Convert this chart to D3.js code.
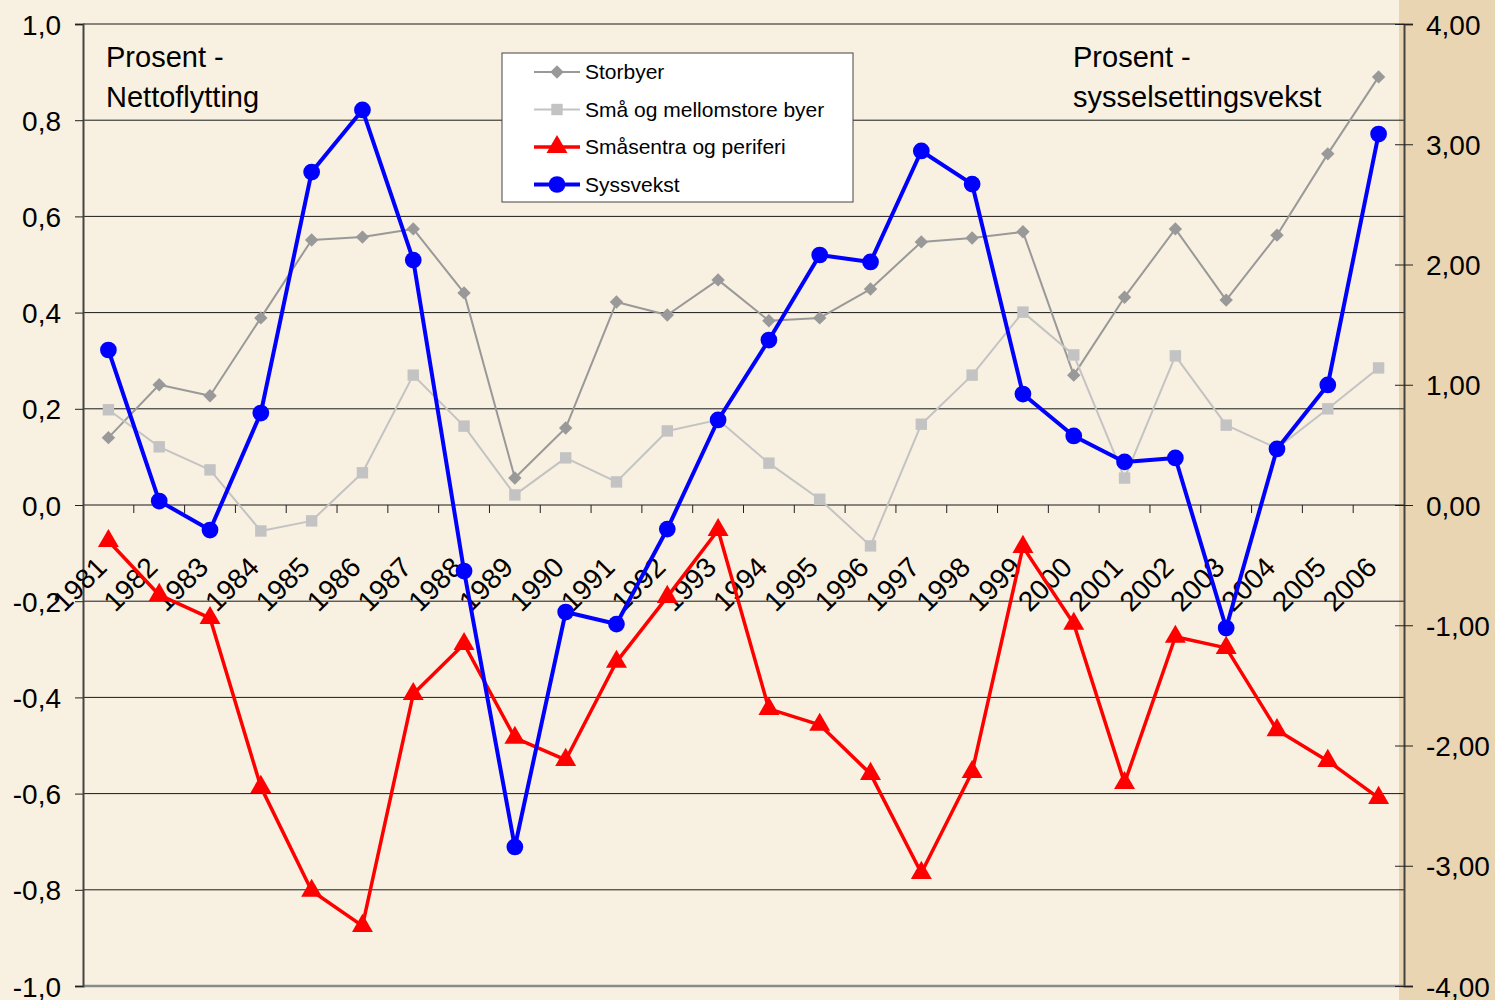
<!DOCTYPE html>
<html>
<head>
<meta charset="utf-8">
<script src="https://cdn.jsdelivr.net/npm/d3@7"></script>
<style>
  body { margin: 0; background: #f8f0e1; }
  svg { display: block; font-family: "Liberation Sans", Arial, sans-serif; }
</style>
</head>
<body>
<script>
(function () {

    //years on the x axis
    var years = ["1981", "1982", "1983", "1984", "1985", "1986", "1987", "1988", "1989", "1990",
        "1991", "1992", "1993", "1994", "1995", "1996", "1997", "1998", "1999", "2000",
        "2001", "2002", "2003", "2004", "2005", "2006"];

    //net migration, left axis (percent)
    var storbyer = [0.14, 0.25, 0.227, 0.389, 0.551, 0.557, 0.574, 0.441, 0.056, 0.160,
        0.422, 0.395, 0.468, 0.383, 0.389, 0.449, 0.547, 0.555, 0.568, 0.270,
        0.432, 0.574, 0.426, 0.561, 0.730, 0.890];
    var smaaByer = [0.198, 0.121, 0.073, -0.054, -0.033, 0.067, 0.270, 0.164, 0.021, 0.098,
        0.048, 0.154, 0.177, 0.087, 0.012, -0.085, 0.168, 0.270, 0.401, 0.312,
        0.056, 0.310, 0.166, 0.118, 0.200, 0.285];
    var periferi = [-0.075, -0.187, -0.235, -0.586, -0.802, -0.875, -0.393, -0.289, -0.484, -0.530,
        -0.326, -0.191, -0.052, -0.424, -0.457, -0.559, -0.765, -0.555, -0.087, -0.247,
        -0.578, -0.274, -0.297, -0.468, -0.532, -0.609];

    //employment growth, right axis (percent)
    var syssvekst = [1.289, 0.033, -0.208, 0.765, 2.769, 3.285, 2.037, -0.549, -2.844, -0.890,
        -0.990, -0.200, 0.707, 1.372, 2.079, 2.021, 2.944, 2.669, 0.923, 0.574,
        0.358, 0.391, -1.023, 0.466, 0.998, 3.085];

    var leftTicks = [1.0, 0.8, 0.6, 0.4, 0.2, 0.0, -0.2, -0.4, -0.6, -0.8, -1.0];
    var rightTicks = [4, 3, 2, 1, 0, -1, -2, -3, -4];

    var width = 1495,
        height = 1000;
    var plotLeft = 83,
        plotRight = 1404,
        plotTop = 24,
        plotBottom = 986;

    var svg = d3.select("body")
        .append("svg")
        .attr("width", width)
        .attr("height", height);

    //backgrounds
    svg.append("rect")
        .attr("width", width)
        .attr("height", height)
        .style("fill", "#f8f0e1");
    svg.append("rect")
        .attr("x", 1399)
        .attr("width", width - 1399)
        .attr("height", height)
        .style("fill", "#e9d5b1");

    var x = d3.scaleBand()
        .domain(years)
        .range([plotLeft, plotRight]);

    var yLeft = d3.scaleLinear()
        .domain([-1, 1])
        .range([plotBottom, plotTop]);

    var yRight = d3.scaleLinear()
        .domain([-4, 4])
        .range([plotBottom, plotTop]);

    var comma = function (n, digits) {
        return d3.format("." + digits + "f")(n).replace(".", ",").replace("−", "-");
    };

    //gridlines
    svg.selectAll(".grid")
        .data(leftTicks)
        .enter()
        .append("line")
        .attr("class", "grid")
        .attr("x1", plotLeft)
        .attr("x2", plotRight)
        .attr("y1", function (d) { return yLeft(d); })
        .attr("y2", function (d) { return yLeft(d); })
        .style("stroke", function (d) { return d === -1 ? "#8a8a8a" : "#1a1a1a"; })
        .style("stroke-width", function (d) { return d === -1 ? 2.5 : 1; });

    //left axis
    var leftAxis = svg.append("g")
        .attr("transform", "translate(" + plotLeft + ",0)")
        .call(d3.axisLeft(yLeft)
            .tickValues(leftTicks)
            .tickSize(8)
            .tickPadding(14)
            .tickFormat(function (d) { return comma(d, 1); }));
    leftAxis.select(".domain").style("stroke", "#444").style("stroke-width", 2);
    leftAxis.selectAll("line").style("stroke", "#222");
    leftAxis.selectAll("text")
        .style("font-size", "28px")
        .style("fill", "#000")
        .attr("dy", "0.36em");

    //right axis
    var rightAxis = svg.append("g")
        .attr("transform", "translate(" + plotRight + ",0)")
        .call(d3.axisRight(yRight)
            .tickValues(rightTicks)
            .tickSize(9)
            .tickPadding(13)
            .tickFormat(function (d) { return comma(d, 2); }));
    rightAxis.select(".domain").style("stroke", "#444").style("stroke-width", 2);
    rightAxis.selectAll(".tick line")
        .attr("x1", -9)
        .style("stroke", "#222");
    rightAxis.selectAll("text")
        .style("font-size", "28px")
        .style("fill", "#000")
        .attr("dy", "0.36em");

    //x axis at zero
    var zeroY = yLeft(0);
    var bounds = years.map(function (d) { return x(d); }).concat([plotRight]);
    svg.selectAll(".xtick")
        .data(bounds.slice(1, -1))
        .enter()
        .append("line")
        .attr("class", "xtick")
        .attr("x1", function (d) { return d; })
        .attr("x2", function (d) { return d; })
        .attr("y1", zeroY)
        .attr("y2", zeroY + 8)
        .style("stroke", "#222");

    svg.selectAll(".xlabel")
        .data(years)
        .enter()
        .append("text")
        .attr("class", "xlabel")
        .attr("transform", function (d) {
            return "translate(" + (x(d) + x.bandwidth() / 2) + "," + (zeroY + 64) + ") rotate(-45)";
        })
        .attr("text-anchor", "end")
        .style("font-size", "28px")
        .style("fill", "#000")
        .text(function (d) { return d; });

    //series
    var series = [
        { name: "Storbyer", values: storbyer, scale: yLeft, color: "#999999", width: 2, symbol: d3.symbolSquare, size: 90, rotate: 45 },
        { name: "Små og mellomstore byer", values: smaaByer, scale: yLeft, color: "#c3c3c3", width: 2, symbol: d3.symbolSquare, size: 130, rotate: 0 },
        { name: "Småsentra og periferi", values: periferi, scale: yLeft, color: "#ff0000", width: 3.5, symbol: d3.symbolTriangle, size: 190, rotate: 0 },
        { name: "Syssvekst", values: syssvekst, scale: yRight, color: "#0000ff", width: 4, symbol: d3.symbolCircle, size: 220, rotate: 0 }
    ];

    series.forEach(function (s, k) {
        var line = d3.line()
            .x(function (d, i) { return x(years[i]) + x.bandwidth() / 2; })
            .y(function (d) { return s.scale(d); });

        svg.append("path")
            .datum(s.values)
            .attr("d", line)
            .style("fill", "none")
            .style("stroke", s.color)
            .style("stroke-width", s.width)
            .style("stroke-linejoin", "round");

        svg.selectAll(".pt" + k)
            .data(s.values)
            .enter()
            .append("path")
            .attr("class", "pt" + k)
            .attr("transform", function (d, i) {
                return "translate(" + (x(years[i]) + x.bandwidth() / 2) + "," + s.scale(d) + ") rotate(" + s.rotate + ")";
            })
            .attr("d", d3.symbol().type(s.symbol).size(s.size))
            .style("fill", s.color);
    });

    //axis titles
    var titles = [
        { x: 106, lines: ["Prosent -", "Nettoflytting"] },
        { x: 1073, lines: ["Prosent -", "sysselsettingsvekst"] }
    ];
    titles.forEach(function (t) {
        svg.append("text")
            .attr("x", t.x)
            .attr("y", 67)
            .style("font-size", "29px")
            .selectAll("tspan")
            .data(t.lines)
            .enter()
            .append("tspan")
            .attr("x", t.x)
            .attr("dy", function (d, i) { return i === 0 ? 0 : 40; })
            .text(function (d) { return d; });
    });

    //legend
    var legend = svg.append("g");
    legend.append("rect")
        .attr("x", 502)
        .attr("y", 53)
        .attr("width", 351)
        .attr("height", 149)
        .style("fill", "#fff")
        .style("stroke", "#444")
        .style("stroke-width", 1);

    var items = legend.selectAll(".item")
        .data(series)
        .enter()
        .append("g")
        .attr("transform", function (d, i) { return "translate(0," + (72 + i * 37.5) + ")"; });
    items.append("line")
        .attr("x1", 534)
        .attr("x2", 580)
        .style("stroke", function (d) { return d.color; })
        .style("stroke-width", function (d) { return d.width; });
    items.append("path")
        .attr("transform", function (d) { return "translate(557,0) rotate(" + d.rotate + ")"; })
        .attr("d", function (d) { return d3.symbol().type(d.symbol).size(d.size)(); })
        .style("fill", function (d) { return d.color; });
    items.append("text")
        .attr("x", 585)
        .attr("dy", "0.35em")
        .style("font-size", "21px")
        .text(function (d) { return d.name; });

})();
</script>
</body>
</html>
